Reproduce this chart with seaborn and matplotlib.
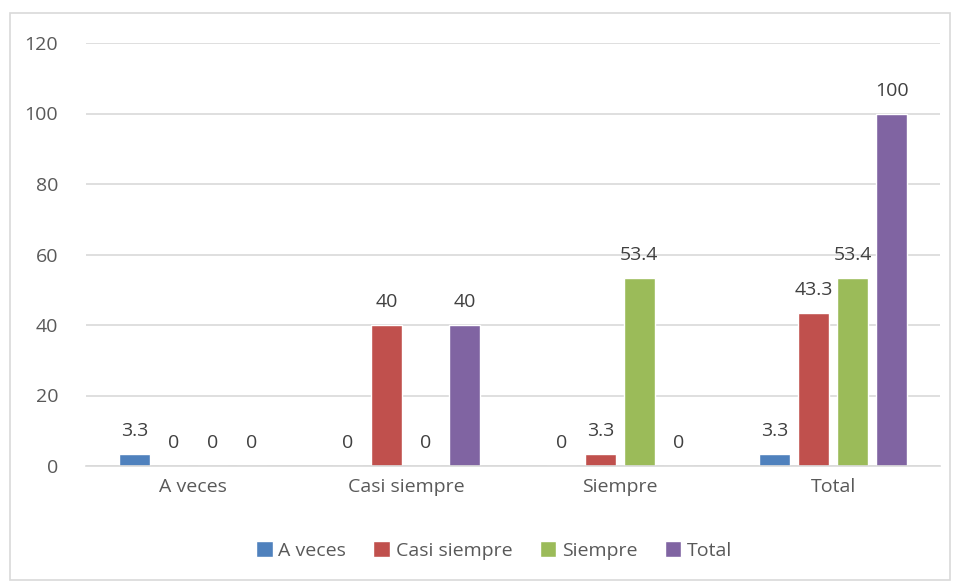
import pandas as pd
import seaborn as sns
import matplotlib.pyplot as plt
from matplotlib.patches import Rectangle

# datos
categorias = ["A veces", "Casi siempre", "Siempre", "Total"]
series = ["A veces", "Casi siempre", "Siempre", "Total"]
a_veces = [3.3, 0, 0, 3.3]
casi_siempre = [0, 40, 3.3, 43.3]
siempre = [0, 0, 53.4, 53.4]
total = [0, 40, 0, 100]
colores = ["#4f81bd", "#c0504d", "#9bbb59", "#8064a2"]

df = pd.DataFrame({
    "categoria": categorias * 4,
    "serie": [s for s in series for _ in categorias],
    "valor": a_veces + casi_siempre + siempre + total,
})

sns.set_style("white")
plt.rcParams['font.family'] = ['Open Sans', 'DejaVu Sans']

fig = plt.figure(figsize=(9.57, 5.82), dpi=100)
ax = fig.add_axes([86/957, 1-466/582, 854/957, 423/582])

sns.barplot(data=df, x="categoria", y="valor", hue="serie", order=categorias,
            hue_order=series, palette=colores, width=0.73, gap=0.2,
            saturation=1, ax=ax, legend=True)

for cont in ax.containers:
    ax.bar_label(cont, labels=[f"{b.get_height():g}" for b in cont],
                 padding=10, fontsize=14, color="#404040")

ax.set_ylim(0, 120)
ax.set_yticks(range(0, 121, 20))
ax.set_xlim(-0.5, 3.5)
ax.set_xlabel("")
ax.set_ylabel("")
ax.grid(axis="y", color="#d9d9d9", linewidth=1.2)
ax.set_axisbelow(True)
for s in ["top", "right", "left"]:
    ax.spines[s].set_visible(False)
ax.spines["bottom"].set_color("#d9d9d9")
ax.spines["bottom"].set_linewidth(1.2)
ax.tick_params(axis="both", length=0, labelsize=14, labelcolor="#595959")
ax.tick_params(axis="y", pad=20)
ax.tick_params(axis="x", pad=9)

leg = ax.legend(loc="center", bbox_to_anchor=(0.478, -0.2), ncol=4, frameon=False,
                fontsize=14, handlelength=0.85, handleheight=0.85, handletextpad=0.3,
                columnspacing=1.4)
for t in leg.get_texts():
    t.set_color("#595959")

fig.patches.append(Rectangle((10/957, 2/582), 940/957, 567/582, transform=fig.transFigure,
                             fill=False, edgecolor="#d9d9d9", linewidth=1.2))

fig.savefig("out.png", dpi=100)
